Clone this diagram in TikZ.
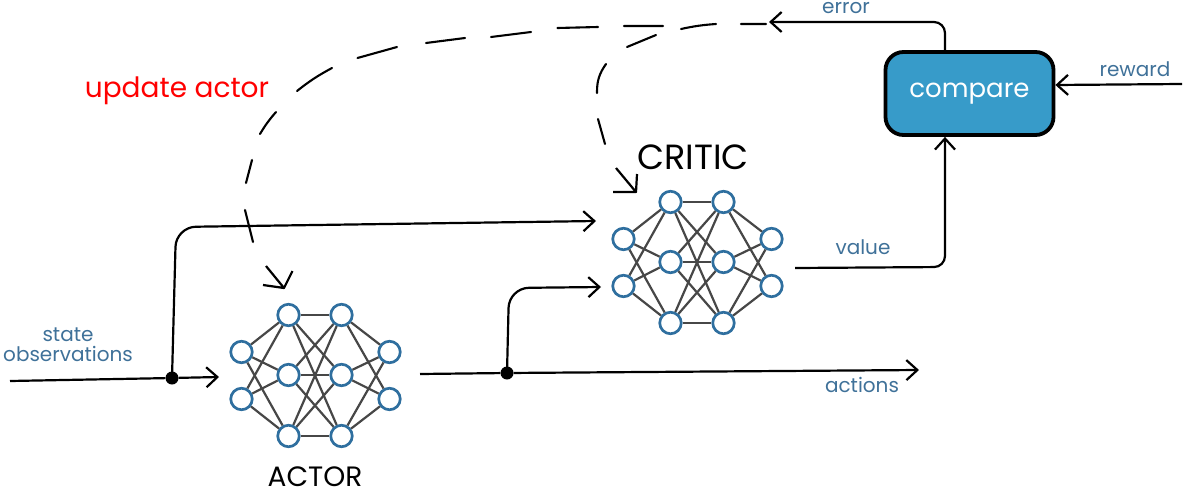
\documentclass[tikz,border=0pt]{standalone}
\usepackage{fontspec}
\setmainfont{Poppins}
\usetikzlibrary{arrows.meta}
\definecolor{netblue}{HTML}{2F6F9F}
\definecolor{boxblue}{HTML}{379BC9}
\definecolor{lbl}{HTML}{3F7199}
\tikzset{
  x=1pt,y=-1pt,
  neuron/.style={circle,draw=netblue,line width=2.7pt,fill=white,minimum size=21.5pt,inner sep=0pt},
  link/.style={draw=black!72,line width=2.2pt},
  wire/.style={draw=black,line width=2.2pt,rounded corners=20pt},
  arrowed/.style={wire,-{Straight Barb[length=11pt,width=20pt,line width=2.2pt]}},
  dashseg/.style={draw=black,line width=2.1pt,line cap=round},
  barb/.style={draw=black,line width=2.2pt,line join=round},
  dot/.style={circle,fill=black,minimum size=13pt,inner sep=0pt},
  tag/.style={text=lbl,font=\fontsize{20}{22}\selectfont,align=center,inner sep=0pt},
  title/.style={text=black,inner sep=0pt},
  cmp/.style={draw=black,line width=3.8pt,fill=boxblue,rounded corners=18pt,minimum width=168pt,minimum height=83pt,text=white,font=\fontsize{26}{28}\selectfont,inner sep=0pt}
}
\newcommand{\neuralnet}[3]{%
  \begin{scope}[shift={(#2,#3)}]
    \foreach \n/\px/\py in {i1/0/0,i2/0/47,a1/47/-37,a2/47/23,a3/47/84,b1/100/-37,b2/100/23,b3/100/84,o1/148/0,o2/148/47}
      \node[neuron] (#1\n) at (\px,\py) {};
  \end{scope}
  \foreach \s in {i1,i2} \foreach \t in {a1,a2,a3} \path[link] (#1\s) -- (#1\t);
  \foreach \s in {a1,a2,a3} \foreach \t in {b1,b2,b3} \path[link] (#1\s) -- (#1\t);
  \foreach \s in {b1,b2,b3} \foreach \t in {o1,o2} \path[link] (#1\s) -- (#1\t);
}
\begin{document}
\begin{tikzpicture}
\useasboundingbox (0,0) rectangle (1185,495);
\neuralnet{A}{241.5}{352}
\neuralnet{C}{623.5}{239}
\node[title,font=\fontsize{28}{30}\selectfont] (actorlabel) at (315,477) {ACTOR};
\node[title,font=\fontsize{35}{38}\selectfont] (criticlabel) at (693,157) {CRITIC};
\node[cmp] (compare) at (969.5,93.5) {compare};
\node[dot] (split1) at (172,378) {};
\node[dot] (split2) at (507,373) {};
\coordinate (statein) at (10,381);
\coordinate (actorin) at (219,377);
\coordinate (criticup) at (596,221);
\coordinate (criticlow) at (601,287);
\coordinate (actorout) at (420,374);
\coordinate (actionsend) at (919,370);
\coordinate (valuestart) at (795,268);
\coordinate (errorend) at (769,22);
\coordinate (rewardstart) at (1182,84);
\path[wire] (statein) -- (split1);
\path[arrowed] (split1) -- (actorin);
\path[arrowed] (split1.center) -- (176,227) -- (criticup);
\path[wire] (actorout) -- (split2);
\path[arrowed] (split2) -- (actionsend);
\path[arrowed] (split2.center) -- (509,288) -- (criticlow);
\path[arrowed,rounded corners=11pt] (valuestart) -- (945,267) -- (compare.south -| 945,0);
\path[arrowed,rounded corners=11pt] (compare.north -| 945,0) -- (945,22) -- (errorend);
\path[arrowed] (rewardstart) -- (compare.east |- 0,85);
% dashed feedback to the actor
\path[dashseg]
  (766,24) -- (741,24)
  (716,24) to[bend right=4] (681,29)
  (663,26) -- (624,26)
  (598,27) -- (557.5,28)
  (531,32) -- (491,37)
  (465,38) -- (426,43)
  (397,47) -- (357.5,58)
  (332,68) to[bend right=5] (297,91)
  (276,112) to[bend right=5] (260,134)
  (252,160) -- (246,183)
  (245,210) -- (253,242);
\path[barb] (266,266) -- (284,288) -- (263,285);
\path[barb] (292.5,271) -- (284,288);
% dashed feedback to the critic
\path[dashseg]
  (656,35) -- (627,47)
  (606,64) to[bend right=18] (597,93)
  (598,119) -- (605,144);
\path[barb] (616,168) -- (636,192) -- (613,192);
\path[barb] (637,174) -- (636,192);
\node[tag] (statelabel) at (68,345) {state\\[-2pt]observations};
\node[tag] (actionslabel) at (862,385) {actions};
\node[tag] (valuelabel) at (863,247) {value};
\node[tag] (errorlabel) at (846,8) {error};
\node[tag] (rewardlabel) at (1135,69) {reward};
\node[text=red,font=\fontsize{28}{30}\selectfont,inner sep=0pt] (updatelabel) at (177,91) {update actor};
\end{tikzpicture}
\end{document}
